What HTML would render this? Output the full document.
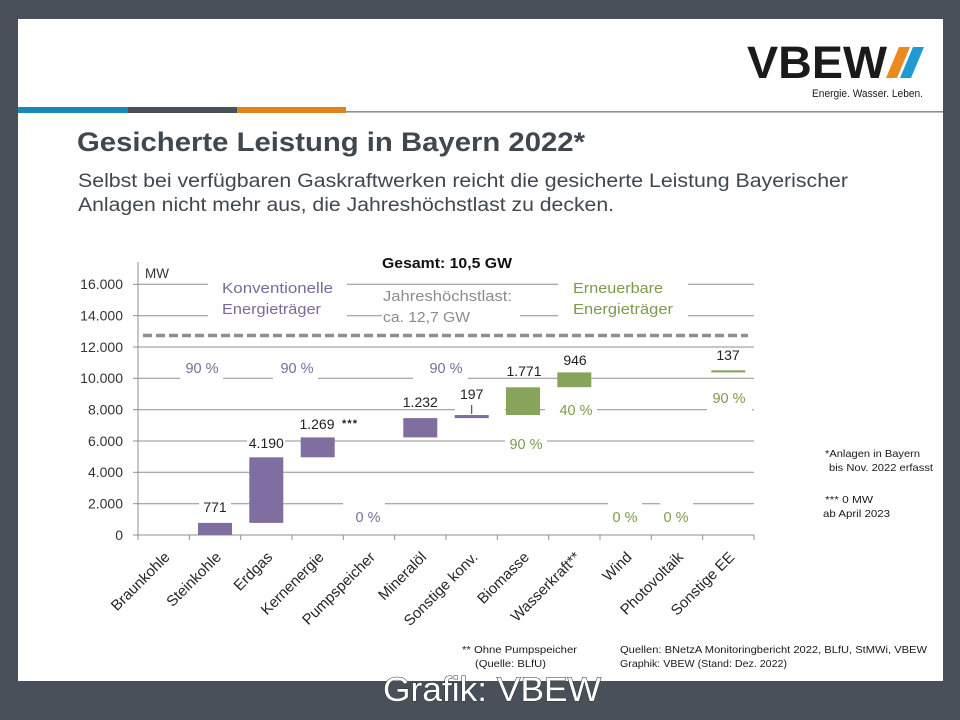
<!DOCTYPE html>
<html><head><meta charset="utf-8"><style>
html,body{margin:0;padding:0;background:#495059;}
svg{display:block;}
text{font-family:"Liberation Sans",Arial,sans-serif;}
</style></head><body>
<svg width="960" height="720" viewBox="0 0 960 720" xmlns="http://www.w3.org/2000/svg">
<rect x="0" y="0" width="960" height="720" fill="#495059"/>
<rect x="18" y="19" width="925" height="662" fill="#ffffff"/>

<!-- header bars -->
<rect x="346" y="111" width="597" height="1.6" fill="#8a9096"/>
<rect x="18" y="107" width="110" height="6" fill="#1b87b9"/>
<rect x="128" y="107" width="109" height="6" fill="#4a5058"/>
<rect x="237" y="107" width="109" height="6" fill="#e0821e"/>

<!-- logo -->
<text x="747" y="78" font-size="45" font-weight="bold" fill="#1a1a1a" textLength="140" lengthAdjust="spacingAndGlyphs">VBEW</text>
<polygon points="899,47 910,47 897,78 886,78" fill="#ea8a1f"/>
<polygon points="913,47 924,47 911,78 900,78" fill="#1f9bd1"/>
<text x="812" y="97" font-size="11" fill="#1a1a1a" textLength="111" lengthAdjust="spacingAndGlyphs">Energie. Wasser. Leben.</text>

<!-- title -->
<text x="77" y="151" font-size="27" font-weight="bold" fill="#40474f" textLength="508" lengthAdjust="spacingAndGlyphs">Gesicherte Leistung in Bayern 2022*</text>
<text x="78" y="187" font-size="19" fill="#40474f" textLength="770" lengthAdjust="spacingAndGlyphs">Selbst bei verfügbaren Gaskraftwerken reicht die gesicherte Leistung Bayerischer</text>
<text x="78" y="211" font-size="19" fill="#40474f" textLength="536" lengthAdjust="spacingAndGlyphs">Anlagen nicht mehr aus, die Jahreshöchstlast zu decken.</text>

<!-- gridlines -->
<g stroke="#8f8f8f" stroke-width="1">
<line x1="138" y1="284.3" x2="754" y2="284.3"/>
<line x1="138" y1="315.7" x2="754" y2="315.7"/>
<line x1="138" y1="347" x2="754" y2="347"/>
<line x1="138" y1="378.3" x2="754" y2="378.3"/>
<line x1="138" y1="409.7" x2="754" y2="409.7"/>
<line x1="138" y1="441" x2="754" y2="441"/>
<line x1="138" y1="472.3" x2="754" y2="472.3"/>
<line x1="138" y1="503.7" x2="754" y2="503.7"/>
<line x1="138" y1="535" x2="754" y2="535"/>
<line x1="138" y1="262" x2="138" y2="535"/>
<line x1="133" y1="284.3" x2="138" y2="284.3"/>
<line x1="133" y1="315.7" x2="138" y2="315.7"/>
<line x1="133" y1="347" x2="138" y2="347"/>
<line x1="133" y1="378.3" x2="138" y2="378.3"/>
<line x1="133" y1="409.7" x2="138" y2="409.7"/>
<line x1="133" y1="441" x2="138" y2="441"/>
<line x1="133" y1="472.3" x2="138" y2="472.3"/>
<line x1="133" y1="503.7" x2="138" y2="503.7"/>
<line x1="133" y1="535" x2="138" y2="535"/>
<line x1="138" y1="535" x2="138" y2="540"/>
<line x1="189.3" y1="535" x2="189.3" y2="540"/>
<line x1="240.7" y1="535" x2="240.7" y2="540"/>
<line x1="292" y1="535" x2="292" y2="540"/>
<line x1="343.3" y1="535" x2="343.3" y2="540"/>
<line x1="394.7" y1="535" x2="394.7" y2="540"/>
<line x1="446" y1="535" x2="446" y2="540"/>
<line x1="497.3" y1="535" x2="497.3" y2="540"/>
<line x1="548.7" y1="535" x2="548.7" y2="540"/>
<line x1="600" y1="535" x2="600" y2="540"/>
<line x1="651.3" y1="535" x2="651.3" y2="540"/>
<line x1="702.7" y1="535" x2="702.7" y2="540"/>
<line x1="754" y1="535" x2="754" y2="540"/>
</g>

<!-- white label boxes -->
<g fill="#ffffff">
<rect x="208" y="276" width="139" height="44"/>
<rect x="382" y="288" width="138" height="38"/>
<rect x="558" y="276" width="130" height="44"/>
<rect x="180" y="358" width="43" height="24"/>
<rect x="273" y="358" width="45" height="24"/>
<rect x="413" y="358" width="55" height="24"/>
<rect x="343" y="498" width="42" height="28"/>
<rect x="199" y="499" width="32" height="16"/>
<rect x="247" y="434" width="38" height="17"/>
<rect x="455" y="386" width="50" height="27"/>
<rect x="505" y="434" width="42" height="18"/>
<rect x="545" y="400" width="52" height="19"/>
<rect x="707" y="389" width="45" height="25"/>
<rect x="608" y="498" width="34" height="28"/>
<rect x="660" y="498" width="33" height="28"/>
</g>

<!-- y labels -->
<g font-size="14" fill="#333" text-anchor="end">
<text x="123" y="289">16.000</text>
<text x="123" y="320.5">14.000</text>
<text x="123" y="352">12.000</text>
<text x="123" y="383">10.000</text>
<text x="123" y="414.5">8.000</text>
<text x="123" y="446">6.000</text>
<text x="123" y="477">4.000</text>
<text x="123" y="508.5">2.000</text>
<text x="123" y="540">0</text>
</g>
<text x="145" y="278" font-size="13.5" fill="#333">MW</text>

<!-- dashed peak load line -->
<line x1="143" y1="335.5" x2="748" y2="335.5" stroke="#8f8f8f" stroke-width="3.5" stroke-dasharray="9 4"/>

<!-- bars -->
<g fill="#806ea0">
<rect x="198" y="522.9" width="34" height="12.1"/>
<rect x="249.3" y="457.3" width="34" height="65.6"/>
<rect x="300.7" y="437.4" width="34" height="19.9"/>
<rect x="403.3" y="418.1" width="34" height="19.3"/>
<rect x="454.7" y="415" width="34" height="3.1"/>
</g>
<g fill="#88a35a">
<rect x="506" y="387.3" width="34" height="27.7"/>
<rect x="557.3" y="372.4" width="34" height="14.8"/>
<rect x="711.3" y="370.3" width="34" height="2.1"/>
</g>
<line x1="471.7" y1="405" x2="471.7" y2="414" stroke="#333" stroke-width="1"/>

<!-- value labels -->
<g font-size="14" fill="#222" text-anchor="middle">
<text x="215" y="512">771</text>
<text x="266.3" y="448">4.190</text>
<text x="317" y="429">1.269</text>
<text x="420.3" y="407">1.232</text>
<text x="471.7" y="399">197</text>
<text x="524" y="376">1.771</text>
<text x="575" y="365">946</text>
<text x="728" y="360">137</text>
</g>
<text x="342" y="427" font-size="11" font-weight="bold" fill="#222" textLength="15" lengthAdjust="spacing">***</text>

<!-- percent labels -->
<g font-size="14.5" fill="#7a6a98" text-anchor="middle">
<text x="202" y="373">90 %</text>
<text x="297" y="373">90 %</text>
<text x="446" y="373">90 %</text>
<text x="368" y="522">0 %</text>
</g>
<g font-size="14.5" fill="#7d9a4a" text-anchor="middle">
<text x="526" y="449">90 %</text>
<text x="576" y="415">40 %</text>
<text x="729" y="403">90 %</text>
<text x="625" y="522">0 %</text>
<text x="676" y="522">0 %</text>
</g>

<!-- group labels -->
<text x="382" y="268" font-size="15" font-weight="bold" fill="#111" textLength="130" lengthAdjust="spacingAndGlyphs">Gesamt:  10,5 GW</text>
<g font-size="15" fill="#7a6a98">
<text x="222" y="293" textLength="111" lengthAdjust="spacingAndGlyphs">Konventionelle</text>
<text x="222" y="314" textLength="99" lengthAdjust="spacingAndGlyphs">Energieträger</text>
</g>
<g font-size="15" fill="#8c8c8c">
<text x="383" y="301" textLength="129" lengthAdjust="spacingAndGlyphs">Jahreshöchstlast:</text>
<text x="383" y="322" textLength="87" lengthAdjust="spacingAndGlyphs">ca. 12,7 GW</text>
</g>
<g font-size="15" fill="#7d9a4a">
<text x="573" y="293" textLength="90" lengthAdjust="spacingAndGlyphs">Erneuerbare</text>
<text x="573" y="314" textLength="100" lengthAdjust="spacingAndGlyphs">Energieträger</text>
</g>

<!-- x-axis labels -->
<g font-size="15" fill="#262626" text-anchor="end">
<text transform="translate(170.7,558) rotate(-45)">Braunkohle</text>
<text transform="translate(222,558) rotate(-45)">Steinkohle</text>
<text transform="translate(273.3,558) rotate(-45)">Erdgas</text>
<text transform="translate(324.7,558) rotate(-45)">Kernenergie</text>
<text transform="translate(376,558) rotate(-45)">Pumpspeicher</text>
<text transform="translate(427.3,558) rotate(-45)">Mineralöl</text>
<text transform="translate(478.7,558) rotate(-45)">Sonstige konv.</text>
<text transform="translate(530,558) rotate(-45)">Biomasse</text>
<text transform="translate(581.3,558) rotate(-45)">Wasserkraft**</text>
<text transform="translate(632.7,558) rotate(-45)">Wind</text>
<text transform="translate(684,558) rotate(-45)">Photovoltaik</text>
<text transform="translate(735.3,558) rotate(-45)">Sonstige EE</text>
</g>

<!-- notes -->
<g font-size="10.5" fill="#1a1a1a">
<text x="825" y="457" textLength="95" lengthAdjust="spacingAndGlyphs">*Anlagen in Bayern</text>
<text x="829" y="471" textLength="104" lengthAdjust="spacingAndGlyphs">bis Nov. 2022 erfasst</text>
<text x="825" y="503" textLength="48" lengthAdjust="spacingAndGlyphs">*** 0 MW</text>
<text x="823" y="517" textLength="67" lengthAdjust="spacingAndGlyphs">ab April 2023</text>
<text x="462" y="653" textLength="115" lengthAdjust="spacingAndGlyphs">** Ohne Pumpspeicher</text>
<text x="475" y="667" textLength="71" lengthAdjust="spacingAndGlyphs">(Quelle: BLfU)</text>
<text x="620" y="653" textLength="307" lengthAdjust="spacingAndGlyphs">Quellen:  BNetzA Monitoringbericht 2022, BLfU, StMWi, VBEW</text>
<text x="620" y="667" textLength="167" lengthAdjust="spacingAndGlyphs">Graphik: VBEW (Stand: Dez. 2022)</text>
</g>

<!-- watermark -->
<text x="383" y="701" font-size="34" fill="#ffffff" stroke="#2a2f35" stroke-width="1" paint-order="stroke" textLength="218" lengthAdjust="spacingAndGlyphs">Grafik: VBEW</text>
</svg>
</body></html>
